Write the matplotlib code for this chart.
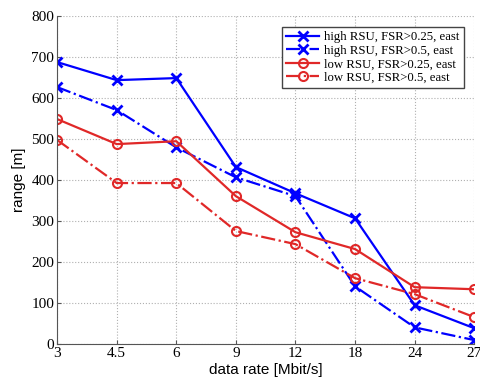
import numpy as np
import matplotlib.pyplot as plt

rates = ['3', '4.5', '6', '9', '12', '18', '24', '27']
high_025 = [688, 644, 649, 432, 368, 307, 95, 39]
high_05 = [627, 571, 480, 407, 361, 141, 41, 10]
low_025 = [549, 488, 495, 361, 273, 232, 139, 134]
low_05 = [498, 393, 393, 276, 244, 161, 122, 66]

fig = plt.figure(figsize=(4.8, 3.85), dpi=100)
ax = fig.add_axes([0.119, 0.106, 0.869, 0.852])

x = np.arange(len(rates))
ax.plot(x, high_025, 'b-', marker='x', ms=7, mew=2, lw=1.6, label='high RSU, FSR>0.25, east')
ax.plot(x, high_05, 'b-.', marker='x', ms=7, mew=2, lw=1.6, label='high RSU, FSR>0.5, east')
ax.plot(x, low_025, '-', color='#e02828', marker='o', ms=6.5, mfc='none', mew=1.5, lw=1.6,
        label='low RSU, FSR>0.25, east')
ax.plot(x, low_05, '-.', color='#e02828', marker='o', ms=6.5, mfc='none', mew=1.5, lw=1.6,
        label='low RSU, FSR>0.5, east')

ax.set_xlim(0, 7)
ax.set_ylim(0, 800)
ax.set_xticks(x)
ax.set_xticklabels(rates)
ax.set_yticks(range(0, 801, 100))
for lab in ax.get_xticklabels() + ax.get_yticklabels():
    lab.set_family('Liberation Serif')
    lab.set_fontsize(11)
ax.tick_params(direction='in', length=3, color='#555555', pad=2)
ax.grid(True, ls=':', color='#b0b0b0', lw=0.8)
for s in ['top', 'right']:
    ax.spines[s].set_visible(False)
for s in ['left', 'bottom']:
    ax.spines[s].set_color('#555555')

ax.set_xlabel('data rate [Mbit/s]', fontsize=11, family='Liberation Sans', labelpad=2)
ax.set_ylabel('range [m]', fontsize=11, family='Liberation Sans', labelpad=4)

leg = ax.legend(loc='upper right', prop={'family': 'Liberation Serif', 'size': 9.2},
                fancybox=False, framealpha=1, edgecolor='#444444', handlelength=2.6,
                labelspacing=0.12, borderpad=0.3, handletextpad=0.4,
                bbox_to_anchor=(0.99, 0.985))
leg.get_frame().set_linewidth(1.0)

fig.savefig('out.png', dpi=100)
